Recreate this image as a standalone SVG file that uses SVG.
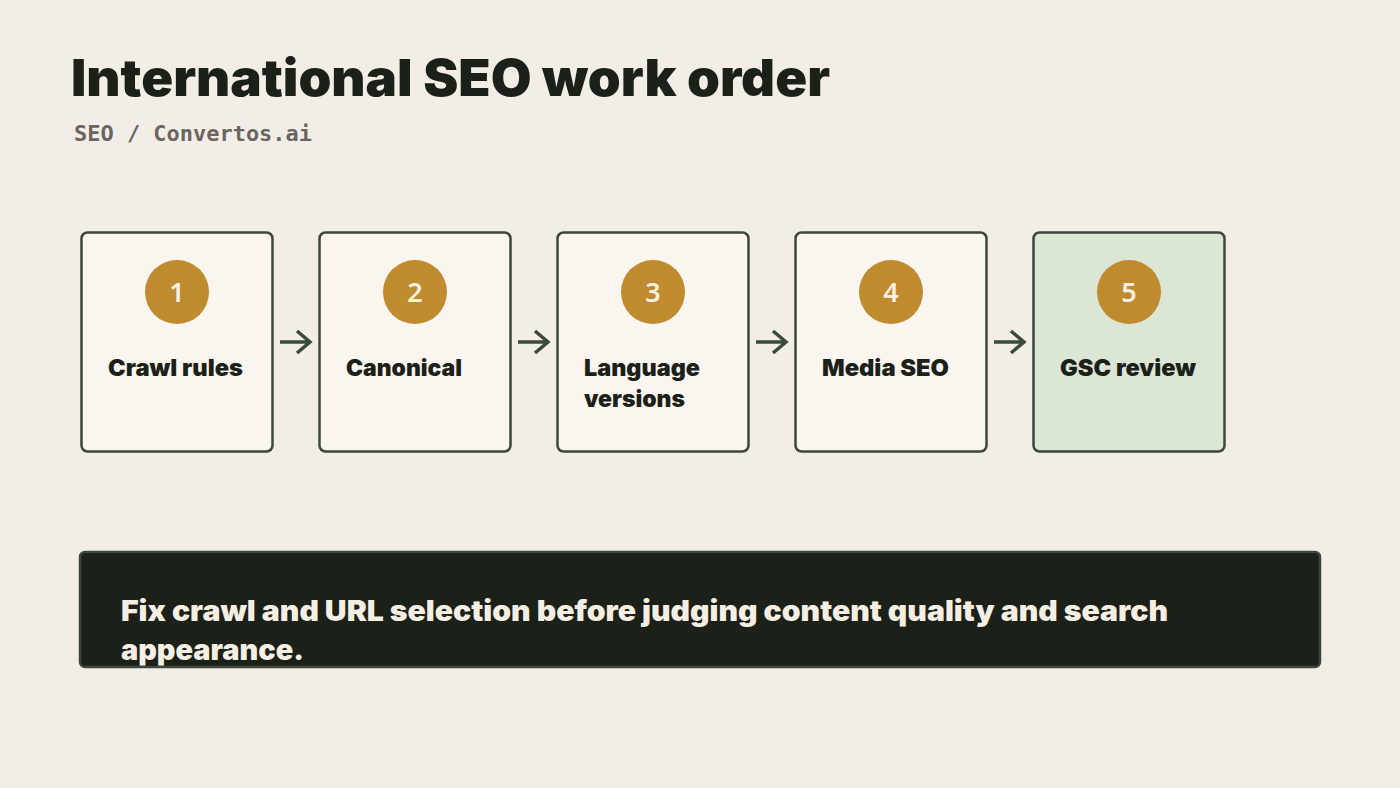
<svg xmlns="http://www.w3.org/2000/svg" width="1400" height="788" viewBox="0 0 1400 788">
<defs>
<style>
.box{fill:#faf6ef;stroke:#3c473d;stroke-width:2.5}
.box.last{fill:#dce6d5}
.num{fill:#c08a2e}
.numt{font-family:"Noto Sans","Open Sans",sans-serif;font-weight:600;font-size:27px;fill:#f7efe0;text-anchor:middle}
.lbl{font-family:Inter,Lato,"Noto Sans",sans-serif;font-weight:900;font-size:23px;fill:#1b2119}
.conn{stroke:#3a4a3c;stroke-width:3.5;fill:none}
.heavy{font-family:Inter,Lato,"Noto Sans",sans-serif;font-weight:900}
</style>
</defs>
<rect width="1400" height="788" fill="#f2eee7"/>
<text class="heavy" x="71" y="96" font-size="51" fill="#1b2119" textLength="759" lengthAdjust="spacingAndGlyphs">International SEO work order</text>
<text x="74" y="141" font-family="'DejaVu Sans Mono','Liberation Mono',monospace" font-weight="700" font-size="21.5" fill="#6b6560" textLength="238" lengthAdjust="spacingAndGlyphs">SEO / Convertos.ai</text>
<g id="connectors">
<line class="conn" x1="280" y1="342" x2="309" y2="342"/>
<path class="conn" d="M297,331 L310,342 L297,353"/>
<line class="conn" x1="518" y1="342" x2="547" y2="342"/>
<path class="conn" d="M535,331 L548,342 L535,353"/>
<line class="conn" x1="756" y1="342" x2="785" y2="342"/>
<path class="conn" d="M773,331 L786,342 L773,353"/>
<line class="conn" x1="994" y1="342" x2="1023" y2="342"/>
<path class="conn" d="M1011,331 L1024,342 L1011,353"/>
</g>
<g id="node1">
<rect class="box" x="81.5" y="232.5" width="191" height="219" rx="6"/>
<circle class="num" cx="177" cy="292" r="32"/>
<text class="numt" x="177" y="302">1</text>
<text class="lbl" x="108" y="376" textLength="135" lengthAdjust="spacingAndGlyphs">Crawl rules</text>
</g>
<g id="node2">
<rect class="box" x="319.5" y="232.5" width="191" height="219" rx="6"/>
<circle class="num" cx="415" cy="292" r="32"/>
<text class="numt" x="415" y="302">2</text>
<text class="lbl" x="346" y="376" textLength="116" lengthAdjust="spacingAndGlyphs">Canonical</text>
</g>
<g id="node3">
<rect class="box" x="557.5" y="232.5" width="191" height="219" rx="6"/>
<circle class="num" cx="653" cy="292" r="32"/>
<text class="numt" x="653" y="302">3</text>
<text class="lbl" x="584" y="376" textLength="116" lengthAdjust="spacingAndGlyphs">Language</text>
<text class="lbl" x="584" y="407" textLength="101" lengthAdjust="spacingAndGlyphs">versions</text>
</g>
<g id="node4">
<rect class="box" x="795.5" y="232.5" width="191" height="219" rx="6"/>
<circle class="num" cx="891" cy="292" r="32"/>
<text class="numt" x="891" y="302">4</text>
<text class="lbl" x="822" y="376" textLength="127" lengthAdjust="spacingAndGlyphs">Media SEO</text>
</g>
<g id="node5">
<rect class="box last" x="1033.5" y="232.5" width="191" height="219" rx="6"/>
<circle class="num" cx="1129" cy="292" r="32"/>
<text class="numt" x="1129" y="302">5</text>
<text class="lbl" x="1060" y="376" textLength="136" lengthAdjust="spacingAndGlyphs">GSC review</text>
</g>
<g id="note">
<rect x="80" y="552" width="1240" height="115" rx="5" fill="#1b2019" stroke="#3c473d" stroke-width="2.5"/>
<text class="heavy" x="121" y="621" font-size="28" fill="#f5efe3" textLength="1047" lengthAdjust="spacingAndGlyphs">Fix crawl and URL selection before judging content quality and search</text>
<text class="heavy" x="121" y="660" font-size="28" fill="#f5efe3" textLength="183" lengthAdjust="spacingAndGlyphs">appearance.</text>
</g>
</svg>
